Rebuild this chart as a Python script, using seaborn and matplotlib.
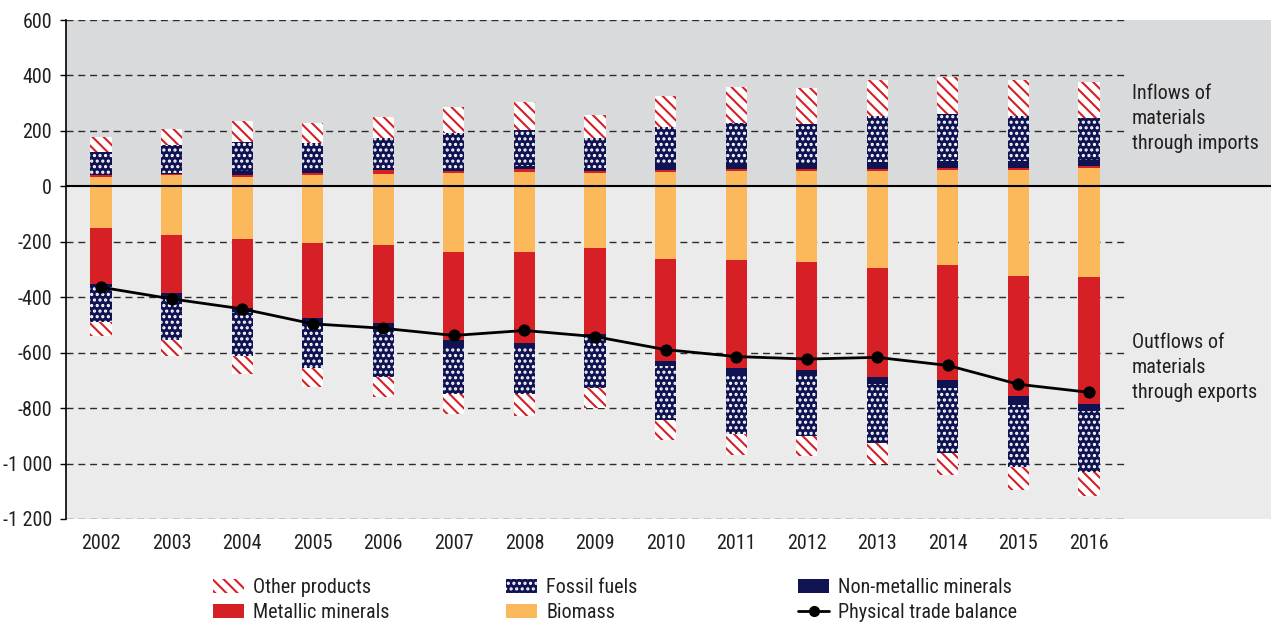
import numpy as np
import matplotlib
matplotlib.use('Agg')
import matplotlib.pyplot as plt
import seaborn as sns
from matplotlib.patches import Patch
from matplotlib.lines import Line2D

years = ['2002', '2003', '2004', '2005', '2006', '2007', '2008', '2009',
         '2010', '2011', '2012', '2013', '2014', '2015', '2016']

# imports (positive, stacked upward): biomass, metallic, non-metallic, fossil, other
imp_biomass = [34, 40, 34, 40, 46, 48, 52, 48, 52, 54, 54, 56, 58, 58, 66]
imp_metallic = [6, 5, 7, 9, 12, 8, 9, 8, 8, 7, 7, 8, 9, 9, 6]
imp_nonmetallic = [6, 4, 13, 9, 8, 5, 11, 11, 18, 23, 23, 24, 25, 25, 22]
imp_fossil = [78, 99, 106, 100, 109, 132, 130, 109, 136, 145, 142, 166, 168, 162, 154]
imp_other = [54, 58, 75, 71, 76, 93, 102, 81, 111, 128, 127, 131, 135, 131, 127]

# exports (drawn downward)
exp_biomass = [152, 177, 189, 206, 210, 237, 237, 223, 263, 267, 274, 294, 285, 322, 328]
exp_metallic = [200, 208, 250, 269, 284, 316, 328, 310, 366, 390, 387, 395, 414, 436, 457]
exp_nonmetallic = [12, 21, 16, 21, 26, 22, 19, 12, 18, 24, 22, 24, 29, 30, 25]
exp_fossil = [126, 147, 157, 160, 169, 174, 165, 184, 196, 211, 217, 213, 234, 225, 219]
exp_other = [49, 60, 66, 69, 72, 72, 79, 71, 73, 78, 72, 74, 80, 83, 88]

trade_balance = [-364, -406, -442, -496, -512, -538, -520, -542, -589, -614,
                 -623, -617, -646, -714, -743]

sns.set_theme(style='white')
plt.rcParams['font.family'] = ['Roboto Condensed', 'Liberation Sans Narrow', 'Roboto', 'DejaVu Sans']
plt.rcParams['hatch.linewidth'] = 1.5

RED = '#d71f26'
YELLOW = '#fcb95b'
NAVY = '#101352'
TXT = '#231f20'
FS = 14.5

fig = plt.figure(figsize=(12.71, 6.25), dpi=100)
ax = fig.add_axes([66 / 1271, 106 / 625, 1205 / 1271, 499 / 625])
ax.set_facecolor('#ebebeb')
ax.axhspan(0, 600, color='#d9dadc', zorder=0, lw=0)

x = np.arange(len(years))
w = 0.30

layers = [
    (imp_biomass, exp_biomass, dict(color=YELLOW)),
    (imp_metallic, exp_metallic, dict(color=RED)),
    (imp_nonmetallic, exp_nonmetallic, dict(color=NAVY)),
    (imp_fossil, exp_fossil, dict(facecolor=NAVY, edgecolor='white', hatch='...')),
    (imp_other, exp_other, dict(facecolor='white', edgecolor=RED, hatch='\\\\\\')),
]

bottom_up = np.zeros(len(years))
bottom_dn = np.zeros(len(years))
for imp, exp, style in layers:
    imp = np.array(imp, dtype=float)
    exp = np.array(exp, dtype=float)
    ax.bar(x, imp, w, bottom=bottom_up, lw=0, zorder=3, **style)
    ax.bar(x, -exp, w, bottom=bottom_dn, lw=0, zorder=3, **style)
    bottom_up += imp
    bottom_dn -= exp

sns.lineplot(x=x, y=trade_balance, ax=ax, color='black', lw=2, marker='o',
             markersize=8, markeredgecolor='black', zorder=5, legend=False)

yticks = np.arange(-1200, 601, 200)
for yt in yticks:
    if yt == 0:
        continue
    ax.hlines(yt, -0.5, 14.5, colors='#2b2b2b', lw=1, linestyles=(0, (5, 3.5)), zorder=1)
ax.axhline(0, color='black', lw=1.5, zorder=4)

ax.set_xlim(-0.496, 16.58)
ax.set_ylim(-1200, 600)
ax.set_yticks(yticks)
ax.set_yticklabels([f'{v:,}'.replace(',', ' ') for v in yticks], fontsize=FS, color=TXT)
ax.set_xticks(x)
ax.set_xticklabels(years, fontsize=FS, color=TXT)
ax.tick_params(axis='x', length=0, pad=11)
ax.tick_params(axis='y', length=4, width=1, color='black', direction='out', pad=6, left=True)
for s in ['top', 'right', 'bottom']:
    ax.spines[s].set_visible(False)
ax.spines['left'].set_color('black')
ax.spines['left'].set_linewidth(1.2)
ax.set_xlabel('')
ax.set_ylabel('')

ax.text(14.61, 246, 'Inflows of\nmaterials\nthrough imports', fontsize=FS,
        color=TXT, va='center', ha='left', linespacing=1.4)
ax.text(14.61, -654, 'Outflows of\nmaterials\nthrough exports', fontsize=FS,
        color=TXT, va='center', ha='left', linespacing=1.4)

h_other = Patch(facecolor='white', edgecolor=RED, hatch='\\\\\\', lw=0)
h_metal = Patch(facecolor=RED, lw=0)
h_fossil = Patch(facecolor=NAVY, edgecolor='white', hatch='...', lw=0)
h_bio = Patch(facecolor=YELLOW, lw=0)
h_nonmet = Patch(facecolor=NAVY, lw=0)
h_line = Line2D([], [], color='black', lw=2, marker='o', markersize=7)

cols = [
    ([h_other, h_metal], ['Other products', 'Metallic minerals'], 213),
    ([h_fossil, h_bio], ['Fossil fuels', 'Biomass'], 506),
    ([h_nonmet, h_line], ['Non-metallic minerals', 'Physical trade balance'], 798),
]
for hs, labs, px in cols:
    leg = fig.legend(hs, labs, loc='upper left', bbox_to_anchor=(px / 1271, 1 - 578 / 625),
                     frameon=False, fontsize=FS, handlelength=1.55, handleheight=0.75,
                     handletextpad=0.45, labelspacing=0.3, borderpad=0, borderaxespad=0)
    for t in leg.get_texts():
        t.set_color(TXT)

fig.savefig('out.png', dpi=100)
